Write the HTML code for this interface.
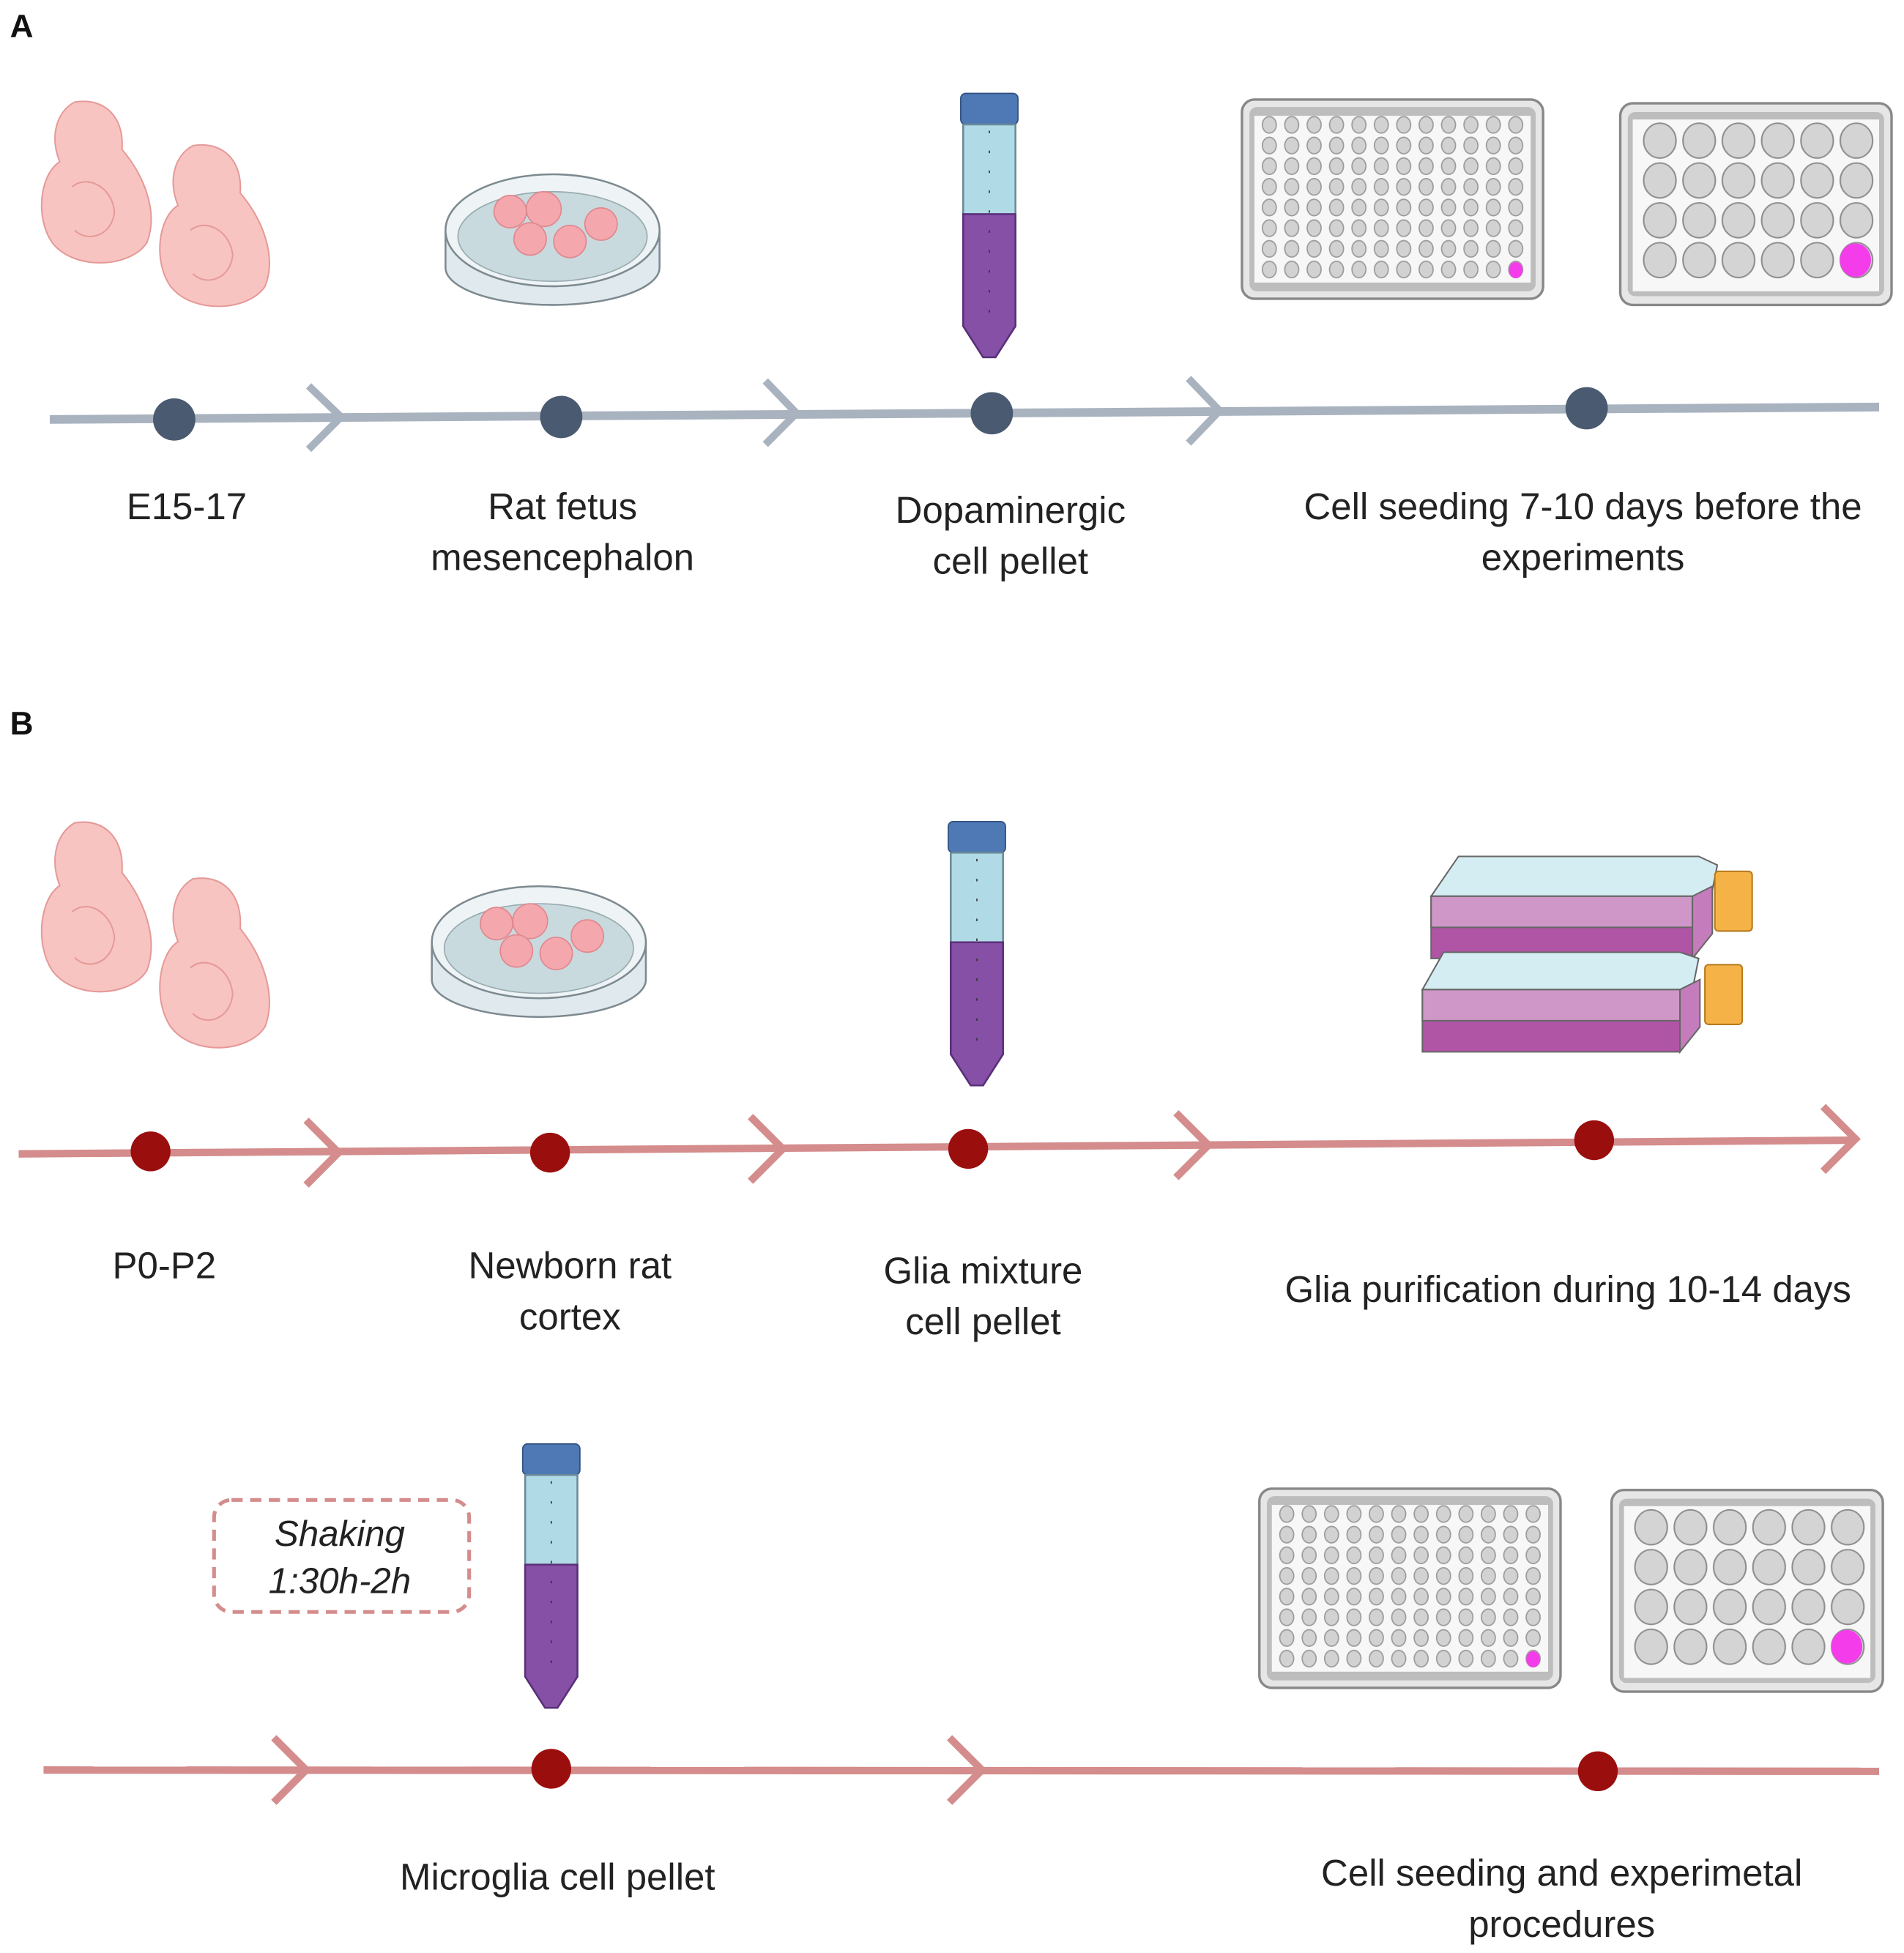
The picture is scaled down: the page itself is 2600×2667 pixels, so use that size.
<!DOCTYPE html>
<html><head><meta charset="utf-8"><style>
html,body{margin:0;padding:0;background:#fff;}
svg{display:block;}
text{font-family:"Liberation Sans",sans-serif;fill:#222;}
</style></head><body>
<svg width="2600" height="2667" viewBox="0 0 1530 1569" preserveAspectRatio="none" xmlns="http://www.w3.org/2000/svg">
<defs>
<pattern id="w96" patternUnits="userSpaceOnUse" x="1011" y="92" width="18" height="16.6">
<ellipse cx="9" cy="8.3" rx="5.6" ry="6.6" fill="#d2d2d2" stroke="#9a9a9a" stroke-width="1"/></pattern>
<pattern id="w24" patternUnits="userSpaceOnUse" x="1318" y="97" width="31.6" height="32">
<ellipse cx="15.8" cy="16" rx="13" ry="14" fill="#d4d4d4" stroke="#8e8e8e" stroke-width="1.2"/></pattern>
<g id="p96">
<rect x="998" y="80" width="242" height="160" rx="10" fill="#e6e6e6" stroke="#888" stroke-width="2"/>
<rect x="1004" y="86" width="230" height="148" rx="6" fill="#bdbdbd"/>
<rect x="1008" y="93" width="222" height="134" fill="#f7f7f7"/>
<rect x="1011" y="92" width="216" height="133" fill="url(#w96)"/>
<ellipse cx="1218" cy="217" rx="5.5" ry="6.5" fill="#f53ceb"/>
</g>
<g id="p24">
<rect x="1302" y="83" width="218" height="162" rx="10" fill="#e6e6e6" stroke="#888" stroke-width="2"/>
<rect x="1308" y="90" width="206" height="148" rx="6" fill="#bdbdbd"/>
<rect x="1312" y="96" width="198" height="138" fill="#f7f7f7"/>
<rect x="1318" y="97" width="190" height="128" fill="url(#w24)"/>
<ellipse cx="1491" cy="209" rx="12.5" ry="13.5" fill="#f53ceb"/>
</g>
<g id="tube">
<rect x="772" y="75" width="46" height="25" rx="4" fill="#4f79b5" stroke="#2f4f80"/>
<path d="M774 100 H816 V262 L800 287 H790 L774 262 Z" fill="#b0dbe6" stroke="#6a8a95" stroke-width="1.5"/>
<path d="M774 172 H816 V262 L800 287 H790 L774 262 Z" fill="#8550a6" stroke="#5b2f7a" stroke-width="1.5"/>
<line x1="795" y1="105" x2="795" y2="255" stroke="#333" stroke-width="1" stroke-dasharray="2 14"/>
</g>
<g id="dish">
<path d="M358 185 V215 A86 30 0 0 0 530 215 V185" fill="#dfe9ee" stroke="#7d8a90" stroke-width="1.5"/>
<ellipse cx="444" cy="185" rx="86" ry="45" fill="#eef4f6" stroke="#7d8a90" stroke-width="1.5"/>
<ellipse cx="444" cy="190" rx="76" ry="36" fill="#c9dade" stroke="#9aabb0"/>
<g fill="#f4a8ad" stroke="#e08890">
<circle cx="410" cy="170" r="13"/><circle cx="437" cy="168" r="14"/><circle cx="483" cy="180" r="13"/>
<circle cx="426" cy="192" r="13"/><circle cx="458" cy="194" r="13"/></g>
</g>
<g id="emb" fill="#f8c4c2" stroke="#e59a98" stroke-width="1.2">
<path d="M60 82 C85 78 100 95 98 120 C115 140 128 170 118 195 C105 215 60 218 42 195 C28 175 32 140 48 130 C40 110 45 90 60 82 Z"/>
<path d="M58 150 C70 140 90 150 92 170 C90 190 70 195 60 185" fill="none"/>
</g>
</defs>

<!-- Section A -->
<text x="8" y="30" font-size="26" font-weight="bold" style="fill:#111">A</text>
<use href="#emb"/>
<use href="#emb" transform="translate(95 35)"/>
<use href="#dish"/>
<use href="#tube"/>
<use href="#p96"/>
<use href="#p24"/>
<line x1="40" y1="337" x2="1510" y2="327" stroke="#a9b3bf" stroke-width="7"/>
<g fill="none" stroke="#a9b3bf" stroke-width="6">
<polyline points="248,310 274,335 248,361"/>
<polyline points="615,306 640,332 615,357"/>
<polyline points="955,304 980,330 955,356"/>
</g>
<g fill="#4a5a70">
<ellipse cx="140" cy="337" rx="17" ry="17"/><ellipse cx="451" cy="335" rx="17" ry="17"/>
<ellipse cx="797" cy="332" rx="17" ry="17"/><ellipse cx="1275" cy="328" rx="17" ry="17"/></g>
<g font-size="30" text-anchor="middle">
<text x="150" y="417">E15-17</text>
<text x="452" y="417">Rat fetus</text><text x="452" y="458">mesencephalon</text>
<text x="812" y="420">Dopaminergic</text><text x="812" y="461">cell pellet</text>
<text x="1272" y="417">Cell seeding 7-10 days before the</text><text x="1272" y="458">experiments</text>
</g>

<!-- Section B -->
<text x="8" y="590" font-size="26" font-weight="bold" style="fill:#111">B</text>
<use href="#emb" transform="translate(0 575) scale(1 1.05)"/>
<use href="#emb" transform="translate(95 620) scale(1 1.05)"/>
<use href="#dish" transform="translate(-11 572)"/>
<use href="#tube" transform="translate(-10 585)"/>
<g stroke="#666" stroke-width="1.2">
<path d="M1150 720 L1172 688 H1365 L1380 695 L1375 720 Z" fill="#d4edf3"/>
<path d="M1150 720 H1360 V770 H1150 Z" fill="#b055a5"/>
<path d="M1150 720 H1360 V745 H1150 Z" fill="#cf97c7"/>
<path d="M1360 720 L1376 712 V750 L1360 770 Z" fill="#c57cbc"/>
<rect x="1378" y="700" width="30" height="48" rx="3" fill="#f5b246" stroke="#b57a1e"/>
<path d="M1143 795 L1160 765 H1350 L1365 770 L1360 795 Z" fill="#d4edf3"/>
<path d="M1143 795 H1350 V845 H1143 Z" fill="#b055a5"/>
<path d="M1143 795 H1350 V820 H1143 Z" fill="#cf97c7"/>
<path d="M1350 795 L1366 787 V825 L1350 845 Z" fill="#c57cbc"/>
<rect x="1370" y="775" width="30" height="48" rx="3" fill="#f5b246" stroke="#b57a1e"/>
</g>
<line x1="15" y1="927" x2="1490" y2="916" stroke="#d48c8c" stroke-width="6"/>
<g fill="none" stroke="#d48c8c" stroke-width="6">
<polyline points="246,900 272,926 246,952"/>
<polyline points="603,897 629,923 603,949"/>
<polyline points="945,894 971,920 945,946"/>
<polyline points="1465,889 1491,915 1465,941"/>
</g>
<g fill="#9b0e0e">
<ellipse cx="121" cy="925" rx="16" ry="16"/><ellipse cx="442" cy="926" rx="16" ry="16"/>
<ellipse cx="778" cy="923" rx="16" ry="16"/><ellipse cx="1281" cy="916" rx="16" ry="16"/></g>
<g font-size="30" text-anchor="middle">
<text x="132" y="1027">P0-P2</text>
<text x="458" y="1027">Newborn rat</text><text x="458" y="1068">cortex</text>
<text x="790" y="1031">Glia mixture</text><text x="790" y="1072">cell pellet</text>
<text x="1260" y="1046">Glia purification during 10-14 days</text>
</g>

<rect x="172" y="1205" width="205" height="90" rx="14" fill="none" stroke="#d48c8c" stroke-width="3" stroke-dasharray="9 6"/>
<g font-size="29" text-anchor="middle" font-style="italic">
<text x="273" y="1242">Shaking</text><text x="273" y="1280">1:30h-2h</text></g>
<use href="#tube" transform="translate(-352 1085)"/>
<use href="#p96" transform="translate(14 1116)"/>
<use href="#p24" transform="translate(-7 1114)"/>
<line x1="35" y1="1422" x2="1510" y2="1423" stroke="#d48c8c" stroke-width="6"/>
<g fill="none" stroke="#d48c8c" stroke-width="6">
<polyline points="220,1396 246,1422 220,1448"/>
<polyline points="763,1396 789,1422 763,1448"/>
</g>
<g fill="#9b0e0e">
<ellipse cx="443" cy="1421" rx="16" ry="16"/><ellipse cx="1284" cy="1423" rx="16" ry="16"/></g>
<g font-size="30" text-anchor="middle">
<text x="448" y="1518">Microglia cell pellet</text>
<text x="1255" y="1515">Cell seeding and experimetal</text><text x="1255" y="1556">procedures</text>
</g>
</svg>
</body></html>
